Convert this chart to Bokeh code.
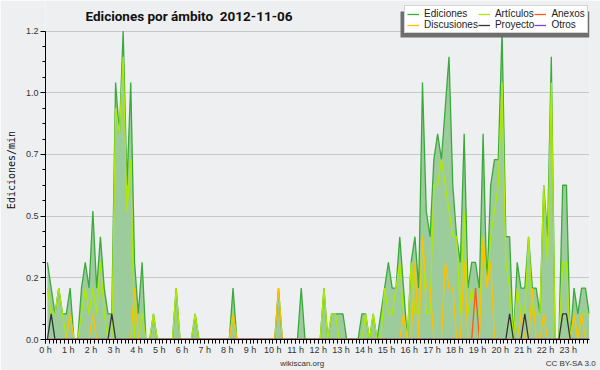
from bokeh.plotting import figure
from bokeh.models import Range1d, FixedTicker, Legend, LegendItem, Label, BoxAnnotation, ColumnDataSource, LinearAxis
from bokeh.embed import file_html
from bokeh.resources import INLINE

# ---- data (edits per minute, 10-minute bins, six bins per hour) ----
hour_ticks = list(range(24))
hour_labels = ["0 h", "1 h", "2 h", "3 h", "4 h", "5 h", "6 h", "7 h", "8 h", "9 h", "10 h", "11 h",
               "12 h", "13 h", "14 h", "15 h", "16 h", "17 h", "18 h", "19 h", "20 h", "21 h", "22 h", "23 h"]
y_ticks = [0.0, 0.24, 0.48, 0.72, 0.96, 1.2]
y_tick_labels = ["0.0", "0.2", "0.5", "0.7", "1.0", "1.2"]
footer_ticks = [11.29, 23.11]
footer_labels = ["wikiscan.org", "CC BY-SA 3.0"]

ediciones = [
    0.3, 0.2, 0.1, 0.2, 0.1, 0.1,   # 0 h
    0.2, 0.0, 0.0, 0.2, 0.3, 0.2,   # 1 h
    0.5, 0.2, 0.4, 0.2, 0.1, 0.1,   # 2 h
    1.0, 0.8, 1.2, 0.6, 1.0, 0.3,   # 3 h
    0.1, 0.3, 0.0, 0.0, 0.1, 0.0,   # 4 h
    0.0, 0.0, 0.0, 0.0, 0.2, 0.0,   # 5 h
    0.0, 0.0, 0.0, 0.1, 0.0, 0.0,   # 6 h
    0.0, 0.0, 0.0, 0.0, 0.0, 0.0,   # 7 h
    0.0, 0.2, 0.0, 0.0, 0.0, 0.0,   # 8 h
    0.0, 0.0, 0.0, 0.0, 0.0, 0.0,   # 9 h
    0.0, 0.2, 0.0, 0.0, 0.0, 0.0,   # 10 h
    0.0, 0.2, 0.0, 0.0, 0.0, 0.0,   # 11 h
    0.0, 0.2, 0.0, 0.1, 0.1, 0.1,   # 12 h
    0.1, 0.0, 0.0, 0.0, 0.0, 0.1,   # 13 h
    0.1, 0.0, 0.1, 0.0, 0.1, 0.2,   # 14 h
    0.3, 0.2, 0.2, 0.4, 0.2, 0.0,   # 15 h
    0.3, 0.4, 0.2, 1.0, 0.5, 0.4,   # 16 h
    0.7, 0.8, 0.7, 0.9, 1.1, 0.6,   # 17 h
    0.4, 0.3, 0.8, 0.2, 0.3, 0.3,   # 18 h
    0.2, 0.8, 0.2, 0.6, 0.7, 0.7,   # 19 h
    1.2, 0.4, 0.4, 0.0, 0.3, 0.2,   # 20 h
    0.2, 0.4, 0.2, 0.2, 0.1, 0.6,   # 21 h
    0.4, 1.1, 0.0, 0.0, 0.6, 0.6,   # 22 h
    0.0, 0.2, 0.1, 0.2, 0.2, 0.1,   # 23 h
]

articulos = [
    0.2, 0.1, 0.1, 0.2, 0.1, 0.0,   # 0 h
    0.1, 0.0, 0.0, 0.1, 0.2, 0.1,   # 1 h
    0.2, 0.1, 0.3, 0.1, 0.0, 0.0,   # 2 h
    0.9, 0.8, 1.1, 0.5, 0.7, 0.0,   # 3 h
    0.0, 0.1, 0.0, 0.0, 0.1, 0.0,   # 4 h
    0.0, 0.0, 0.0, 0.0, 0.2, 0.0,   # 5 h
    0.0, 0.0, 0.0, 0.1, 0.0, 0.0,   # 6 h
    0.0, 0.0, 0.0, 0.0, 0.0, 0.0,   # 7 h
    0.0, 0.1, 0.0, 0.0, 0.0, 0.0,   # 8 h
    0.0, 0.0, 0.0, 0.0, 0.0, 0.0,   # 9 h
    0.0, 0.0, 0.0, 0.0, 0.0, 0.0,   # 10 h
    0.0, 0.0, 0.0, 0.0, 0.0, 0.0,   # 11 h
    0.0, 0.2, 0.0, 0.1, 0.1, 0.0,   # 12 h
    0.0, 0.0, 0.0, 0.0, 0.0, 0.0,   # 13 h
    0.1, 0.0, 0.1, 0.0, 0.0, 0.2,   # 14 h
    0.1, 0.1, 0.2, 0.3, 0.1, 0.0,   # 15 h
    0.3, 0.1, 0.1, 0.4, 0.1, 0.1,   # 16 h
    0.6, 0.6, 0.7, 0.6, 0.5, 0.4,   # 17 h
    0.4, 0.1, 0.5, 0.1, 0.2, 0.1,   # 18 h
    0.1, 0.4, 0.2, 0.4, 0.5, 0.6,   # 19 h
    1.0, 0.3, 0.2, 0.0, 0.2, 0.1,   # 20 h
    0.1, 0.4, 0.1, 0.1, 0.1, 0.6,   # 21 h
    0.3, 1.0, 0.0, 0.0, 0.3, 0.3,   # 22 h
    0.0, 0.1, 0.0, 0.1, 0.1, 0.1,   # 23 h
]

anexos = [
    0.0, 0.0, 0.0, 0.0, 0.0, 0.0,   # 0 h
    0.0, 0.0, 0.0, 0.0, 0.0, 0.0,   # 1 h
    0.0, 0.0, 0.0, 0.0, 0.0, 0.0,   # 2 h
    0.0, 0.0, 0.0, 0.0, 0.0, 0.0,   # 3 h
    0.0, 0.0, 0.0, 0.0, 0.0, 0.0,   # 4 h
    0.0, 0.0, 0.0, 0.0, 0.0, 0.0,   # 5 h
    0.0, 0.0, 0.0, 0.0, 0.0, 0.0,   # 6 h
    0.0, 0.0, 0.0, 0.0, 0.0, 0.0,   # 7 h
    0.0, 0.0, 0.0, 0.0, 0.0, 0.0,   # 8 h
    0.0, 0.0, 0.0, 0.0, 0.0, 0.0,   # 9 h
    0.0, 0.0, 0.0, 0.0, 0.0, 0.0,   # 10 h
    0.0, 0.0, 0.0, 0.0, 0.0, 0.0,   # 11 h
    0.0, 0.0, 0.0, 0.0, 0.0, 0.0,   # 12 h
    0.0, 0.0, 0.0, 0.0, 0.0, 0.0,   # 13 h
    0.0, 0.0, 0.0, 0.0, 0.0, 0.0,   # 14 h
    0.0, 0.0, 0.0, 0.0, 0.0, 0.0,   # 15 h
    0.0, 0.0, 0.0, 0.0, 0.0, 0.0,   # 16 h
    0.0, 0.0, 0.0, 0.0, 0.0, 0.0,   # 17 h
    0.0, 0.0, 0.0, 0.0, 0.0, 0.2,   # 18 h
    0.0, 0.0, 0.0, 0.0, 0.0, 0.0,   # 19 h
    0.0, 0.0, 0.0, 0.0, 0.0, 0.0,   # 20 h
    0.0, 0.0, 0.0, 0.0, 0.0, 0.0,   # 21 h
    0.0, 0.0, 0.0, 0.0, 0.0, 0.0,   # 22 h
    0.0, 0.0, 0.0, 0.0, 0.0, 0.0,   # 23 h
]

discusiones = [
    0.0, 0.0, 0.0, 0.0, 0.0, 0.0,   # 0 h
    0.1, 0.0, 0.0, 0.0, 0.0, 0.0,   # 1 h
    0.1, 0.0, 0.0, 0.0, 0.0, 0.0,   # 2 h
    0.0, 0.0, 0.0, 0.0, 0.0, 0.2,   # 3 h
    0.0, 0.0, 0.0, 0.0, 0.0, 0.0,   # 4 h
    0.0, 0.0, 0.0, 0.0, 0.0, 0.0,   # 5 h
    0.0, 0.0, 0.0, 0.0, 0.0, 0.0,   # 6 h
    0.0, 0.0, 0.0, 0.0, 0.0, 0.0,   # 7 h
    0.0, 0.1, 0.0, 0.0, 0.0, 0.0,   # 8 h
    0.0, 0.0, 0.0, 0.0, 0.0, 0.0,   # 9 h
    0.0, 0.2, 0.0, 0.0, 0.0, 0.0,   # 10 h
    0.0, 0.0, 0.0, 0.0, 0.0, 0.0,   # 11 h
    0.0, 0.0, 0.0, 0.0, 0.0, 0.0,   # 12 h
    0.0, 0.0, 0.0, 0.0, 0.0, 0.0,   # 13 h
    0.0, 0.0, 0.0, 0.0, 0.0, 0.0,   # 14 h
    0.0, 0.0, 0.0, 0.0, 0.1, 0.0,   # 15 h
    0.0, 0.3, 0.0, 0.4, 0.2, 0.2,   # 16 h
    0.0, 0.0, 0.0, 0.3, 0.2, 0.2,   # 17 h
    0.0, 0.0, 0.3, 0.0, 0.0, 0.0,   # 18 h
    0.0, 0.4, 0.2, 0.3, 0.0, 0.0,   # 19 h
    0.0, 0.0, 0.0, 0.0, 0.0, 0.1,   # 20 h
    0.0, 0.0, 0.2, 0.0, 0.0, 0.1,   # 21 h
    0.0, 0.0, 0.0, 0.0, 0.0, 0.0,   # 22 h
    0.0, 0.1, 0.0, 0.1, 0.0, 0.0,   # 23 h
]

proyecto = [
    0.0, 0.1, 0.0, 0.0, 0.0, 0.0,   # 0 h
    0.0, 0.0, 0.0, 0.0, 0.0, 0.0,   # 1 h
    0.0, 0.0, 0.0, 0.0, 0.0, 0.1,   # 2 h
    0.0, 0.0, 0.0, 0.0, 0.0, 0.0,   # 3 h
    0.0, 0.0, 0.0, 0.0, 0.0, 0.0,   # 4 h
    0.0, 0.0, 0.0, 0.0, 0.0, 0.0,   # 5 h
    0.0, 0.0, 0.0, 0.0, 0.0, 0.0,   # 6 h
    0.0, 0.0, 0.0, 0.0, 0.0, 0.0,   # 7 h
    0.0, 0.0, 0.0, 0.0, 0.0, 0.0,   # 8 h
    0.0, 0.0, 0.0, 0.0, 0.0, 0.0,   # 9 h
    0.0, 0.0, 0.0, 0.0, 0.0, 0.0,   # 10 h
    0.0, 0.0, 0.0, 0.0, 0.0, 0.0,   # 11 h
    0.0, 0.0, 0.0, 0.0, 0.0, 0.0,   # 12 h
    0.0, 0.0, 0.0, 0.0, 0.0, 0.0,   # 13 h
    0.0, 0.0, 0.0, 0.0, 0.0, 0.0,   # 14 h
    0.0, 0.0, 0.0, 0.0, 0.0, 0.0,   # 15 h
    0.0, 0.0, 0.0, 0.0, 0.0, 0.0,   # 16 h
    0.0, 0.0, 0.0, 0.0, 0.0, 0.0,   # 17 h
    0.0, 0.0, 0.0, 0.0, 0.0, 0.0,   # 18 h
    0.0, 0.0, 0.0, 0.0, 0.0, 0.0,   # 19 h
    0.0, 0.0, 0.1, 0.0, 0.0, 0.0,   # 20 h
    0.1, 0.0, 0.0, 0.0, 0.0, 0.0,   # 21 h
    0.0, 0.0, 0.0, 0.0, 0.1, 0.1,   # 22 h
    0.0, 0.0, 0.0, 0.0, 0.0, 0.0,   # 23 h
]

otros = [
    0.0, 0.0, 0.0, 0.0, 0.0, 0.0,   # 0 h
    0.0, 0.0, 0.0, 0.0, 0.0, 0.0,   # 1 h
    0.0, 0.0, 0.0, 0.0, 0.0, 0.0,   # 2 h
    0.0, 0.0, 0.0, 0.0, 0.0, 0.0,   # 3 h
    0.0, 0.0, 0.0, 0.0, 0.0, 0.0,   # 4 h
    0.0, 0.0, 0.0, 0.0, 0.0, 0.0,   # 5 h
    0.0, 0.0, 0.0, 0.0, 0.0, 0.0,   # 6 h
    0.0, 0.0, 0.0, 0.0, 0.0, 0.0,   # 7 h
    0.0, 0.0, 0.0, 0.0, 0.0, 0.0,   # 8 h
    0.0, 0.0, 0.0, 0.0, 0.0, 0.0,   # 9 h
    0.0, 0.0, 0.0, 0.0, 0.0, 0.0,   # 10 h
    0.0, 0.0, 0.0, 0.0, 0.0, 0.0,   # 11 h
    0.0, 0.0, 0.0, 0.0, 0.0, 0.0,   # 12 h
    0.0, 0.0, 0.0, 0.0, 0.0, 0.0,   # 13 h
    0.0, 0.0, 0.0, 0.0, 0.0, 0.0,   # 14 h
    0.0, 0.0, 0.0, 0.0, 0.0, 0.0,   # 15 h
    0.0, 0.0, 0.0, 0.0, 0.0, 0.0,   # 16 h
    0.0, 0.0, 0.0, 0.0, 0.0, 0.0,   # 17 h
    0.0, 0.0, 0.0, 0.0, 0.0, 0.0,   # 18 h
    0.0, 0.0, 0.0, 0.0, 0.0, 0.0,   # 19 h
    0.0, 0.0, 0.0, 0.0, 0.0, 0.0,   # 20 h
    0.0, 0.0, 0.0, 0.0, 0.0, 0.0,   # 21 h
    0.0, 0.0, 0.0, 0.0, 0.0, 0.0,   # 22 h
    0.0, 0.0, 0.0, 0.0, 0.0, 0.0,   # 23 h
]

# time of each bin (middle of the 10-minute interval), in hours
bin_hours = [(i + 0.5) / 6 for i in range(len(ediciones))]

src = ColumnDataSource(dict(x=bin_hours, zero=[0.0] * len(ediciones), ed=ediciones, art=articulos,
                            anx=anexos, dis=discusiones, pro=proyecto, otr=otros))

# ---- layout: the frame reaches the top of the canvas so title and legend live inside it ----
W, H = 600, 370
BL, BR, BB = 45, 11, 26          # borders (left, right, bottom)
FH = H - BB                      # frame height in px
PX_PER_UNIT = 313 / 1.2          # 1.2 edits/min spans 313 px
p = figure(width=W, height=H, output_backend="svg", toolbar_location=None,
           x_range=Range1d(0, 23.93), y_range=Range1d(0, FH / PX_PER_UNIT),
           min_border_left=BL, min_border_right=BR, min_border_top=0, min_border_bottom=BB)
p.title = None
p.background_fill_color = "#eeeff0"
p.border_fill_color = "#eeeff0"
p.outline_line_color = None

# area + lines
p.varea(x="x", y1="zero", y2="ed", source=src, fill_color="#9ccb9c", fill_alpha=1.0)
r_ed = p.line("x", "ed", source=src, line_color="#3aaa3a", line_width=1.3)
r_art = p.line("x", "art", source=src, line_color="#aeea00", line_width=1.3)
r_anx = p.line("x", "anx", source=src, line_color="#ff5a14", line_width=1.3)
r_dis = p.line("x", "dis", source=src, line_color="#ffc000", line_width=1.3)
r_pro = p.line("x", "pro", source=src, line_color="#333333", line_width=1.3)
r_otr = p.line("x", "otr", source=src, line_color="#8a3be2", line_width=1.3)

# y axis
ya = p.yaxis[0]
minor_y = [k * 0.06 for k in range(21)]
ya.ticker = FixedTicker(ticks=y_ticks, minor_ticks=minor_y)
ya.major_label_overrides = dict(zip(y_ticks, y_tick_labels))
ya.bounds = (0, 1.2)
p.ygrid.ticker = FixedTicker(ticks=y_ticks)
p.ygrid.grid_line_color = "#c8c8c8"
p.xgrid.grid_line_color = None

# x axis
xa = p.xaxis[0]
minor_x = [k / 6 for k in range(144)]
xa.ticker = FixedTicker(ticks=hour_ticks, minor_ticks=minor_x)
xa.major_label_overrides = dict(zip(hour_ticks, hour_labels))

for ax in (xa, ya):
    ax.axis_line_color = "black"
    ax.major_tick_line_color = "black"
    ax.minor_tick_line_color = "black"
    ax.major_tick_in = 0
    ax.minor_tick_in = 0
    ax.major_label_text_font = "Liberation Sans"
    ax.major_label_text_font_size = "9px"
    ax.major_label_text_color = "#333333"
    ax.major_label_standoff = 2

xa.major_tick_out = 4
xa.minor_tick_out = 4
xa.major_label_standoff = 1
ya.major_tick_out = 5
ya.minor_tick_out = 3
ya.axis_label = "Ediciones/min"
ya.axis_label_text_font = "DejaVu Sans Mono"
ya.axis_label_text_font_size = "10px"
ya.axis_label_text_font_style = "normal"
ya.axis_label_text_color = "#111111"
ya.axis_label_standoff = 6

# footer row (wikiscan.org / licence) as an unlined axis under the hour axis
fa = LinearAxis(ticker=FixedTicker(ticks=footer_ticks, minor_ticks=[]),
                major_label_overrides=dict(zip(footer_ticks, footer_labels)),
                axis_line_color=None, major_tick_line_color=None, minor_tick_line_color=None,
                major_tick_in=0, major_tick_out=0, minor_tick_in=0, minor_tick_out=0,
                major_label_standoff=1, major_label_text_font="Liberation Sans",
                major_label_text_font_size="8px", major_label_text_color="#333333")
p.add_layout(fa, "below")

# title (inside the frame, above the 1.2 line)
p.add_layout(Label(x=40, y=FH - 20, x_units="screen", y_units="screen",
                   text="Ediciones por ámbito\u00a0 2012-11-06", text_font="Roboto",
                   text_font_style="bold", text_font_size="13.5px", text_color="#111111",
                   text_baseline="alphabetic"))

# legend with a dark drop shadow (legend location is its bottom-left corner)
LX, LW = 404 - BL, 189
LTOP, LBOT = FH - 12, FH - 38
p.add_layout(BoxAnnotation(left=LX - 4, right=LX - 4 + LW, top=LTOP - 4, bottom=LBOT - 4,
                           left_units="screen", right_units="screen", top_units="screen", bottom_units="screen",
                           fill_color="#6e6e6e", fill_alpha=1.0, line_color=None))
legend = Legend(items=[LegendItem(label="Ediciones", renderers=[r_ed]),
                       LegendItem(label="Artículos", renderers=[r_art]),
                       LegendItem(label="Anexos", renderers=[r_anx]),
                       LegendItem(label="Discusiones", renderers=[r_dis]),
                       LegendItem(label="Proyecto", renderers=[r_pro]),
                       LegendItem(label="Otros", renderers=[r_otr])],
                location=(LX, LBOT), orientation="horizontal", ncols=3,
                glyph_width=12, glyph_height=10, label_height=10, label_standoff=5,
                spacing=0, padding=2, margin=0,
                label_text_font="Liberation Sans", label_text_font_size="10px", label_text_color="#222222",
                background_fill_color="white", background_fill_alpha=1.0,
                border_line_color="#aaaaaa", border_line_width=1)
p.add_layout(legend, "center")

open("out.html", "w").write(file_html(p, INLINE))
